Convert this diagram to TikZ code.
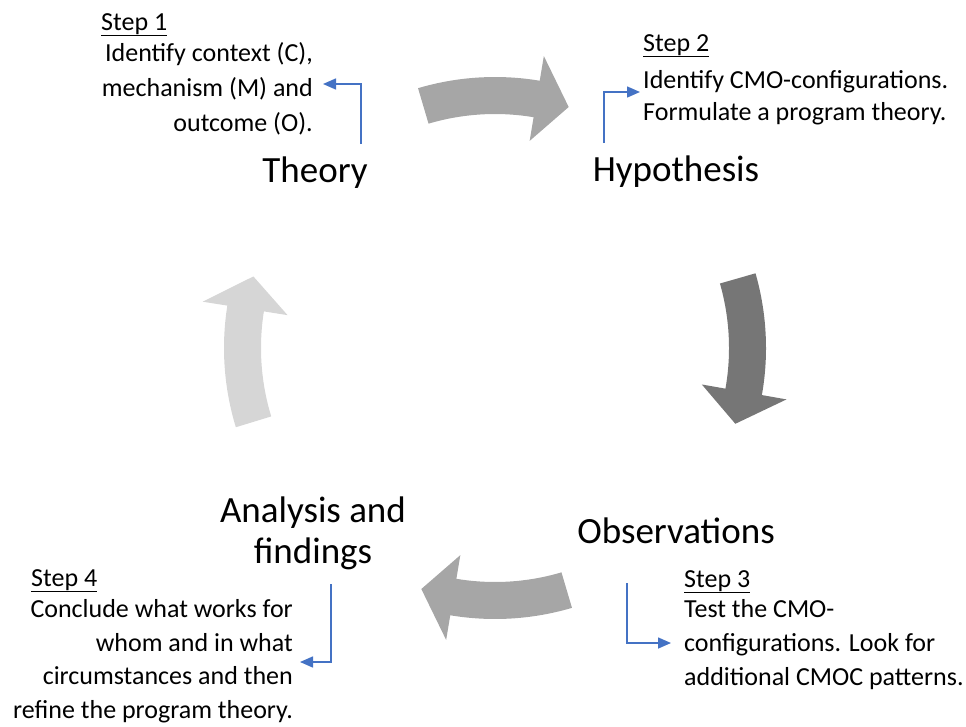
\documentclass[tikz,border=0pt]{standalone}
\usepackage{fontspec}
\setmainfont{Carlito}
\usetikzlibrary{arrows.meta}
\definecolor{blueln}{HTML}{4472C4}
\definecolor{grayA}{HTML}{A6A6A6}
\definecolor{grayB}{HTML}{767676}
\definecolor{grayC}{HTML}{D6D6D6}
\newcommand\cycarrow[2]{%
  \fill[#2] (#1:271) arc[start angle=#1, end angle=#1-26, radius=271]
    -- (#1-26:296) -- (#1-33.5:252) -- (#1-26:210) -- (#1-26:234)
    arc[start angle=#1-26, end angle=#1, radius=234] -- cycle;}
\begin{document}
\begin{tikzpicture}[x=1pt,y=1pt,
  stephead/.style={font=\fontsize{26}{31}\selectfont, inner sep=0pt},
  stepbody/.style={font=\fontsize{26}{#1}\selectfont, inner sep=0pt},
  bigl/.style={font=\fontsize{37}{41}\selectfont, inner sep=0pt},
  pointer/.style={draw=blueln, line width=1.5pt, -{Triangle[length=13pt,width=11pt]}}]
\useasboundingbox (0,0) rectangle (966,-726);

% curved cycle arrows
\begin{scope}[shift={(495,-348)}]
  \cycarrow{106.5}{grayA}
  \cycarrow{16}{grayB}
  \cycarrow{-73.5}{grayA}
  \cycarrow{197}{grayC}
\end{scope}

% main labels (base anchor = baseline of last line)
\node[bigl, anchor=base] (theory) at (315,-182) {Theory};
\node[bigl, anchor=base] (hypo) at (676,-181) {Hypothesis};
\node[bigl, anchor=base] (obs) at (676,-543) {Observations};
\node[bigl, anchor=base, align=center] (ana) at (313,-563) {Analysis and\\findings};

% step texts
\node[stephead, anchor=base west] (s1h) at (101,-30) {\underline{Step 1}};
\node[stepbody=35, align=right, anchor=base east] (s1b) at (313,-131)
  {Identify context (C),\\mechanism (M) and\\outcome (O).};

\node[stephead, anchor=base west] (s2h) at (643,-51) {\underline{Step 2}};
\node[stepbody=32, align=left, anchor=base west] (s2b) at (643,-120)
  {Identify CMO-configurations.\\Formulate a program theory.};

\node[stephead, anchor=base west] (s3h) at (684,-587) {\underline{Step 3}};
\node[stepbody=34, align=left, anchor=base west] (s3b) at (684,-685)
  {Test the CMO-\\configurations. Look for\\additional CMOC patterns.};

\node[stephead, anchor=base west] (s4h) at (31,-586) {\underline{Step 4}};
\node[stepbody=33.5, align=right, anchor=base east] (s4b) at (293,-718)
  {Conclude what works for\\whom and in what\\circumstances and then\\refine the program theory.};

% blue pointers
\coordinate (c1a) at (361,-144); \coordinate (c1b) at (323,-84);
\coordinate (c2a) at (604,-143); \coordinate (c2b) at (640,-92);
\coordinate (c3a) at (627,-583); \coordinate (c3b) at (671,-643);
\coordinate (c4a) at (331,-584); \coordinate (c4b) at (300,-662);
\draw[pointer] (c1a) |- (c1b);
\draw[pointer] (c2a) |- (c2b);
\draw[pointer] (c3a) |- (c3b);
\draw[pointer] (c4a) |- (c4b);
\end{tikzpicture}
\end{document}
